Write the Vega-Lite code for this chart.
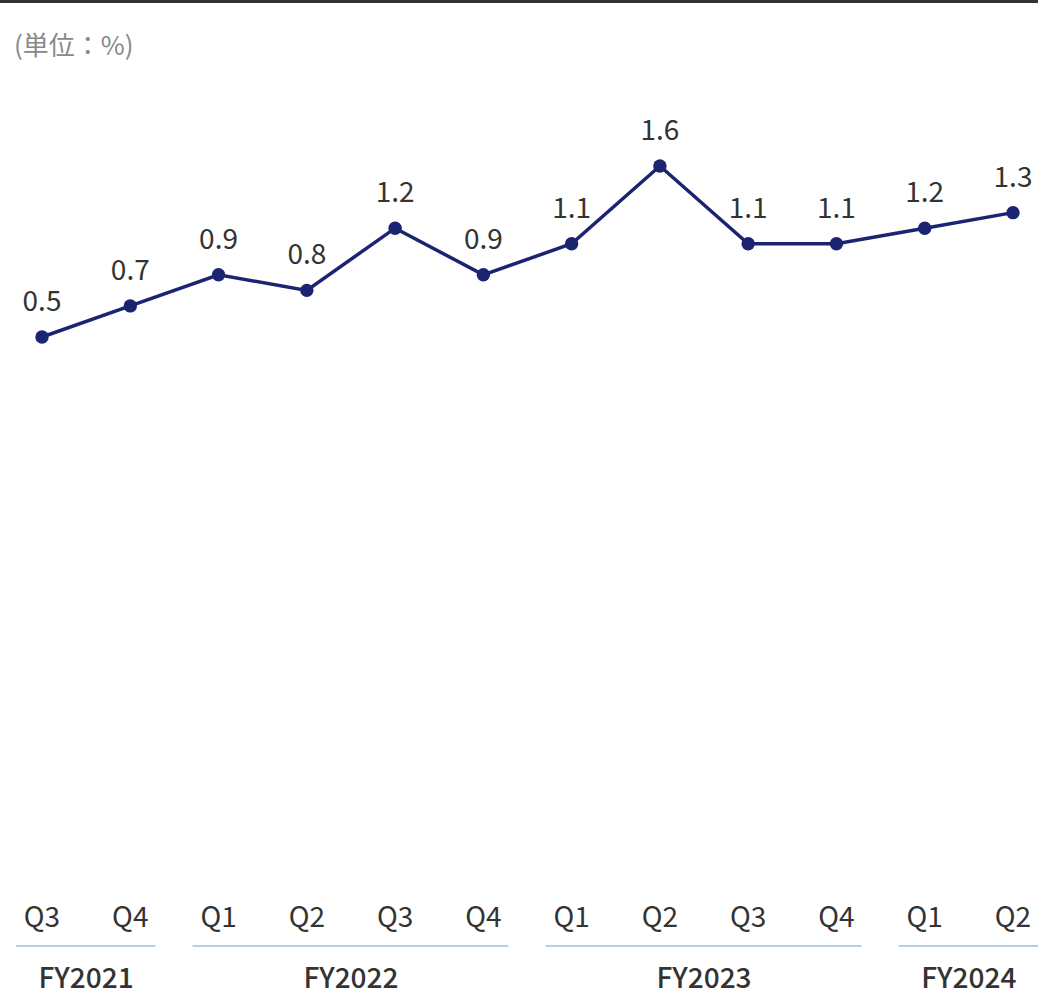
{
  "$schema": "https://vega.github.io/schema/vega-lite/v6.json",
  "width": 1038,
  "height": 995,
  "autosize": {"type": "none"},
  "padding": 0,
  "background": "#ffffff",
  "config": {"view": {"stroke": null}, "font": "Noto Sans CJK JP"},
  "title": {
    "text": "(単位：%)",
    "anchor": "start",
    "frame": "group",
    "font": "Noto Sans CJK JP",
    "fontSize": 26,
    "fontWeight": "normal",
    "color": "#888888",
    "baseline": "alphabetic",
    "dx": 14,
    "dy": 88
  },
  "datasets": {
    "quarters": [
      {"idx": 0, "fy": "FY2021", "q": "Q3", "v": 0.5},
      {"idx": 1, "fy": "FY2021", "q": "Q4", "v": 0.7},
      {"idx": 2, "fy": "FY2022", "q": "Q1", "v": 0.9},
      {"idx": 3, "fy": "FY2022", "q": "Q2", "v": 0.8},
      {"idx": 4, "fy": "FY2022", "q": "Q3", "v": 1.2},
      {"idx": 5, "fy": "FY2022", "q": "Q4", "v": 0.9},
      {"idx": 6, "fy": "FY2023", "q": "Q1", "v": 1.1},
      {"idx": 7, "fy": "FY2023", "q": "Q2", "v": 1.6},
      {"idx": 8, "fy": "FY2023", "q": "Q3", "v": 1.1},
      {"idx": 9, "fy": "FY2023", "q": "Q4", "v": 1.1},
      {"idx": 10, "fy": "FY2024", "q": "Q1", "v": 1.2},
      {"idx": 11, "fy": "FY2024", "q": "Q2", "v": 1.3}
    ],
    "years": [
      {"fy": "FY2021", "first": 0, "last": 1, "mid": 0.5},
      {"fy": "FY2022", "first": 2, "last": 5, "mid": 3.5},
      {"fy": "FY2023", "first": 6, "last": 9, "mid": 7.5},
      {"fy": "FY2024", "first": 10, "last": 11, "mid": 10.5}
    ],
    "frame": [
      {"left": -0.4758, "right": 11.2832, "top": 2.668}
    ]
  },
  "resolve": {"scale": {"x": "shared", "y": "shared"}},
  "layer": [
    {
      "data": {"name": "frame"},
      "mark": {"type": "rule", "color": "#333333", "strokeWidth": 6},
      "encoding": {
        "x": {"field": "left", "type": "quantitative", "scale": {"domain": [-0.4758, 11.2832], "nice": false, "zero": false}, "axis": null},
        "x2": {"field": "right"},
        "y": {"field": "top", "type": "quantitative", "scale": {"domain": [-3.733, 2.668], "nice": false, "zero": false}, "axis": null}
      }
    },
    {
      "data": {"name": "quarters"},
      "mark": {"type": "line", "color": "#1b2470", "strokeWidth": 3.5},
      "encoding": {
        "x": {"field": "idx", "type": "quantitative"},
        "y": {"field": "v", "type": "quantitative"}
      }
    },
    {
      "data": {"name": "quarters"},
      "mark": {"type": "point", "filled": true, "opacity": 1, "color": "#1b2470", "size": 180},
      "encoding": {
        "x": {"field": "idx", "type": "quantitative"},
        "y": {"field": "v", "type": "quantitative"}
      }
    },
    {
      "data": {"name": "quarters"},
      "mark": {"type": "text", "align": "center", "baseline": "alphabetic", "dy": -26, "fontSize": 28, "fontWeight": "normal", "color": "#333333", "font": "Noto Sans CJK JP"},
      "encoding": {
        "x": {"field": "idx", "type": "quantitative"},
        "y": {"field": "v", "type": "quantitative"},
        "text": {"field": "v", "type": "quantitative", "format": ".1f"}
      }
    },
    {
      "data": {"name": "quarters"},
      "mark": {"type": "text", "align": "center", "baseline": "alphabetic", "fontSize": 28, "fontWeight": "normal", "color": "#333333", "font": "Noto Sans CJK JP"},
      "encoding": {
        "x": {"field": "idx", "type": "quantitative"},
        "y": {"datum": -3.295},
        "text": {"field": "q"}
      }
    },
    {
      "data": {"name": "years"},
      "mark": {"type": "rule", "color": "#b8cfdd", "strokeWidth": 2, "xOffset": -26, "x2Offset": 25},
      "encoding": {
        "x": {"field": "first", "type": "quantitative"},
        "x2": {"field": "last"},
        "y": {"datum": -3.418}
      }
    },
    {
      "data": {"name": "years"},
      "mark": {"type": "text", "align": "center", "baseline": "alphabetic", "fontSize": 28, "fontWeight": 500, "color": "#333333", "font": "Noto Sans CJK JP"},
      "encoding": {
        "x": {"field": "mid", "type": "quantitative"},
        "y": {"datum": -3.685},
        "text": {"field": "fy"}
      }
    }
  ]
}
